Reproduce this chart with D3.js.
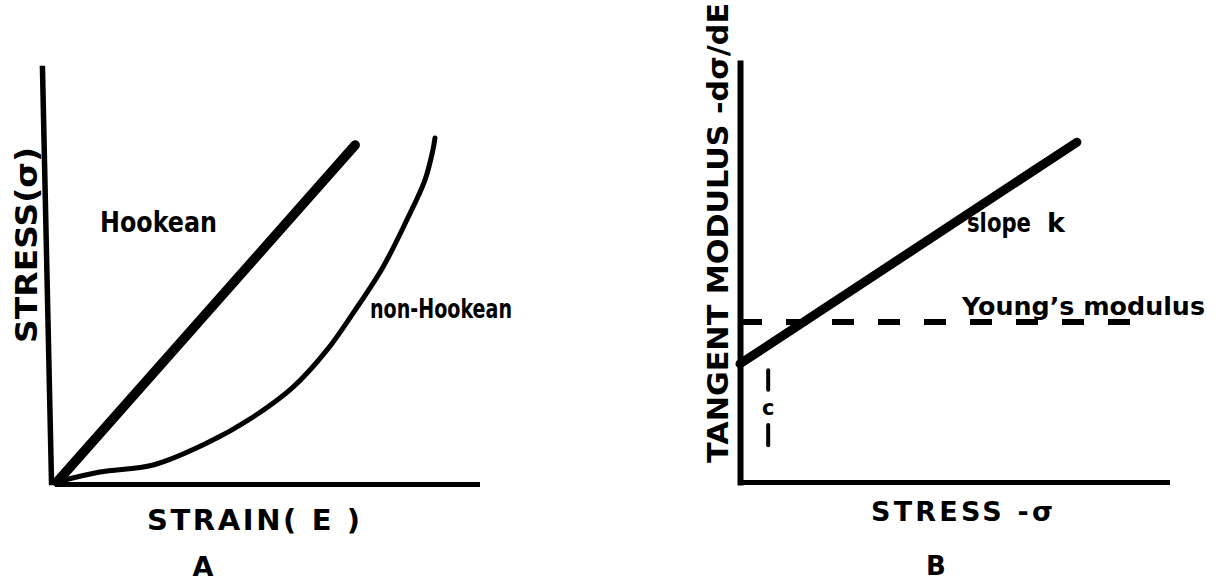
<!DOCTYPE html>
<html>
<head>
<meta charset="utf-8">
<script src="https://cdn.jsdelivr.net/npm/d3@7"></script>
<style>
  body { margin: 0; background: #fff; }
  text { font-family: "DejaVu Sans", sans-serif; font-weight: bold; fill: #000; }
</style>
</head>
<body>
<div id="chart"></div>
<script>
// Panel A - stress against strain (arbitrary units 0-100)
const hookeanStrain = [0, 71];
const hookeanStress = [0, 81.4];
const nonHookeanStrain = [0, 10.2, 22.9, 35.7, 46.7, 56.2, 64.3, 70.5, 77.6, 83.3, 87.6, 89.5, 90];
const nonHookeanStress = [0, 2.4, 4.1, 9.4, 15.7, 22.9, 31.9, 40.8, 51.9, 63.3, 72.9, 80.2, 83.1];

// Panel B - tangent modulus against stress
const tangentStress = [0, 78.9];
const tangentModulus = [28.2, 81.1];
const youngsModulus = 38.2;
const youngsStress = [0, 92];
const cStress = 6.6;
const cLower = [8.8, 13.6];
const cUpper = [22.0, 26.7];
const cLabel = 17.7;

const width = 1225, height = 582;

const svg = d3.select("#chart")
    .append("svg")
    .attr("width", width)
    .attr("height", height);

// Set the ranges
var xA = d3.scaleLinear().domain([0, 100]).range([57, 477]);
var yA = d3.scaleLinear().domain([0, 100]).range([482, 68]);
var xB = d3.scaleLinear().domain([0, 100]).range([740, 1167]);
var yB = d3.scaleLinear().domain([0, 100]).range([482, 63]);

function styleAxis(g, w) {
    g.select(".domain").attr("stroke", "#000").attr("stroke-width", w)
        .attr("stroke-linecap", "square");
}

// ---------- Panel A ----------
svg.append("g")
    .attr("transform", "translate(0,484)")
    .call(d3.axisBottom(xA).tickValues([]).tickSizeOuter(0))
    .call(g => styleAxis(g, 5));

// y axis leans slightly to the left, like the hand drawing
svg.append("g")
    .attr("transform", "translate(51,482) skewX(1.25) translate(0,-482)")
    .call(d3.axisLeft(yA).tickValues([]).tickSizeOuter(0))
    .call(g => styleAxis(g, 5.5));

var lineA = d3.line().x(d => xA(d[0])).y(d => yA(d[1]));

svg.append("path")
    .datum(d3.zip(hookeanStrain, hookeanStress))
    .attr("d", lineA)
    .attr("fill", "none")
    .attr("stroke", "#000")
    .attr("stroke-width", 9.5)
    .attr("stroke-linecap", "round");

svg.append("path")
    .datum(d3.zip(nonHookeanStrain, nonHookeanStress))
    .attr("d", lineA.curve(d3.curveCatmullRom))
    .attr("fill", "none")
    .attr("stroke", "#000")
    .attr("stroke-width", 5)
    .attr("stroke-linecap", "round");

svg.append("text")
    .attr("x", 100).attr("y", 232)
    .attr("textLength", 117).attr("lengthAdjust", "spacingAndGlyphs")
    .style("font-size", "28px")
    .text("Hookean");

svg.append("text")
    .attr("x", 370).attr("y", 318)
    .attr("textLength", 142).attr("lengthAdjust", "spacingAndGlyphs")
    .style("font-size", "27px")
    .text("non-Hookean");

svg.append("text")
    .attr("transform", "translate(37,245) rotate(-90)")
    .attr("text-anchor", "middle")
    .attr("textLength", 196).attr("lengthAdjust", "spacingAndGlyphs")
    .style("font-size", "30px")
    .text("STRESS(σ)");

svg.append("text")
    .attr("x", 147).attr("y", 530)
    .attr("textLength", 213).attr("lengthAdjust", "spacing")
    .style("font-size", "29px")
    .text("STRAIN( E )");

svg.append("text")
    .attr("x", 203).attr("y", 576)
    .attr("text-anchor", "middle")
    .style("font-size", "27px")
    .text("A");

// ---------- Panel B ----------
svg.append("g")
    .attr("transform", "translate(0,482)")
    .call(d3.axisBottom(xB).tickValues([]).tickSizeOuter(0))
    .call(g => styleAxis(g, 5));

svg.append("g")
    .attr("transform", "translate(740,0)")
    .call(d3.axisLeft(yB).tickValues([]).tickSizeOuter(0))
    .call(g => styleAxis(g, 6));

var lineB = d3.line().x(d => xB(d[0])).y(d => yB(d[1]));

// Young's modulus (dashed, constant)
svg.append("path")
    .datum(youngsStress.map(s => [s, youngsModulus]))
    .attr("d", lineB)
    .attr("fill", "none")
    .attr("stroke", "#000")
    .attr("stroke-width", 6)
    .attr("stroke-dasharray", "22,24")
    .attr("stroke-linecap", "butt");

svg.append("path")
    .datum(d3.zip(tangentStress, tangentModulus))
    .attr("d", lineB)
    .attr("fill", "none")
    .attr("stroke", "#000")
    .attr("stroke-width", 9)
    .attr("stroke-linecap", "round");

// intercept c marker
[cLower, cUpper].forEach(function(r) {
    svg.append("path")
        .datum(r.map(v => [cStress, v]))
        .attr("d", lineB)
        .attr("stroke", "#000")
        .attr("stroke-width", 4)
        .attr("stroke-linecap", "round");
});

svg.append("text")
    .attr("x", xB(cStress)).attr("y", yB(cLabel) + 7)
    .attr("text-anchor", "middle")
    .style("font-size", "21px")
    .text("c");

svg.append("text")
    .attr("x", 967).attr("y", 232)
    .attr("textLength", 64).attr("lengthAdjust", "spacingAndGlyphs")
    .style("font-size", "27px")
    .text("slope");

svg.append("text")
    .attr("x", 1047).attr("y", 232)
    .style("font-size", "27px")
    .text("k");

svg.append("text")
    .attr("x", 962).attr("y", 315)
    .attr("textLength", 243).attr("lengthAdjust", "spacingAndGlyphs")
    .style("font-size", "25px")
    .text("Young’s modulus");

svg.append("text")
    .attr("transform", "translate(728,233) rotate(-90)")
    .attr("text-anchor", "middle")
    .attr("textLength", 460).attr("lengthAdjust", "spacingAndGlyphs")
    .style("font-size", "29px")
    .text("TANGENT  MODULUS -dσ/dE");

svg.append("text")
    .attr("x", 871).attr("y", 521)
    .attr("textLength", 182).attr("lengthAdjust", "spacing")
    .style("font-size", "27px")
    .text("STRESS -σ");

svg.append("text")
    .attr("x", 936).attr("y", 575)
    .attr("text-anchor", "middle")
    .style("font-size", "26px")
    .text("B");
</script>
</body>
</html>
